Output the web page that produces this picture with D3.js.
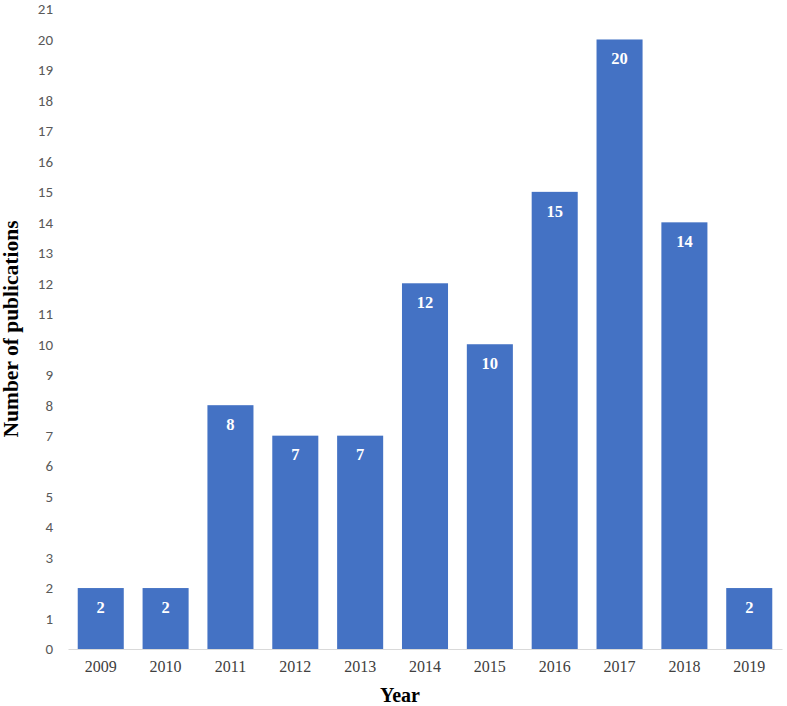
<!DOCTYPE html>
<html>
<head>
<meta charset="utf-8">
<script src="https://cdn.jsdelivr.net/npm/d3@7"></script>
<style>
  body { margin: 0; background: #fff; }
  svg { display: block; }
</style>
</head>
<body>
<svg id="chart" width="787" height="706"></svg>
<script>
const years = ['2009', '2010', '2011', '2012', '2013', '2014', '2015', '2016', '2017', '2018', '2019'];
const counts = [2, 2, 8, 7, 7, 12, 10, 15, 20, 14, 2];
const yTicks = d3.range(0, 22);

const w = 787;
const h = 706;
const m = { top: 9, right: 5, bottom: 57, left: 68 };
const svg = d3.select('#chart');

const x = d3.scaleBand()
  .domain(years)
  .range([m.left, w - m.right])
  .paddingInner(0.29)
  .paddingOuter(0.15);

const y = d3.scaleLinear()
  .domain([0, 21])
  .range([h - m.bottom, m.top]);

// y tick labels only, no axis line
const yAxis = d3.axisLeft(y).tickValues(yTicks).tickSize(0).tickPadding(15);
svg.append('g')
  .attr('transform', `translate(${m.left}, 0)`)
  .call(yAxis)
  .call((g) => g.select('.domain').remove())
  .call((g) => g.selectAll('.tick text')
    .attr('fill', '#595959')
    .attr('font-family', 'Carlito, Calibri, "Open Sans", sans-serif')
    .attr('font-size', 15));

svg.append('g')
  .selectAll('rect')
  .data(counts)
  .join('rect')
  .attr('x', (d, i) => x(years[i]))
  .attr('y', (d) => y(d))
  .attr('width', x.bandwidth())
  .attr('height', (d) => y(0) - y(d))
  .attr('fill', '#4472C4');

svg.append('g')
  .selectAll('text')
  .data(counts)
  .join('text')
  .attr('x', (d, i) => x(years[i]) + x.bandwidth() / 2)
  .attr('y', (d) => y(d) + 19)
  .attr('dy', '0.35em')
  .attr('text-anchor', 'middle')
  .attr('fill', '#fff')
  .attr('font-family', '"Liberation Serif", "Times New Roman", serif')
  .attr('font-weight', 'bold')
  .attr('font-size', 16.5)
  .text((d) => d);

const xAxis = d3.axisBottom(x).tickSize(0).tickPadding(12);
svg.append('g')
  .attr('transform', `translate(0, ${y(0)})`)
  .call(xAxis)
  .call((g) => g.select('.domain').attr('stroke', '#d9d9d9').attr('stroke-width', 1.2))
  .call((g) => g.selectAll('.tick text')
    .attr('fill', '#404040')
    .attr('font-family', '"Liberation Serif", "Times New Roman", serif')
    .attr('font-size', 16));

svg.append('text')
  .attr('x', 400)
  .attr('y', 702)
  .attr('text-anchor', 'middle')
  .attr('font-family', '"Liberation Serif", "Times New Roman", serif')
  .attr('font-weight', 'bold')
  .attr('font-size', 20)
  .text('Year');

svg.append('text')
  .attr('transform', 'translate(18, 329) rotate(-90)')
  .attr('text-anchor', 'middle')
  .attr('font-family', '"Liberation Serif", "Times New Roman", serif')
  .attr('font-weight', 'bold')
  .attr('font-size', 21.5)
  .text('Number of publications');
</script>
</body>
</html>
